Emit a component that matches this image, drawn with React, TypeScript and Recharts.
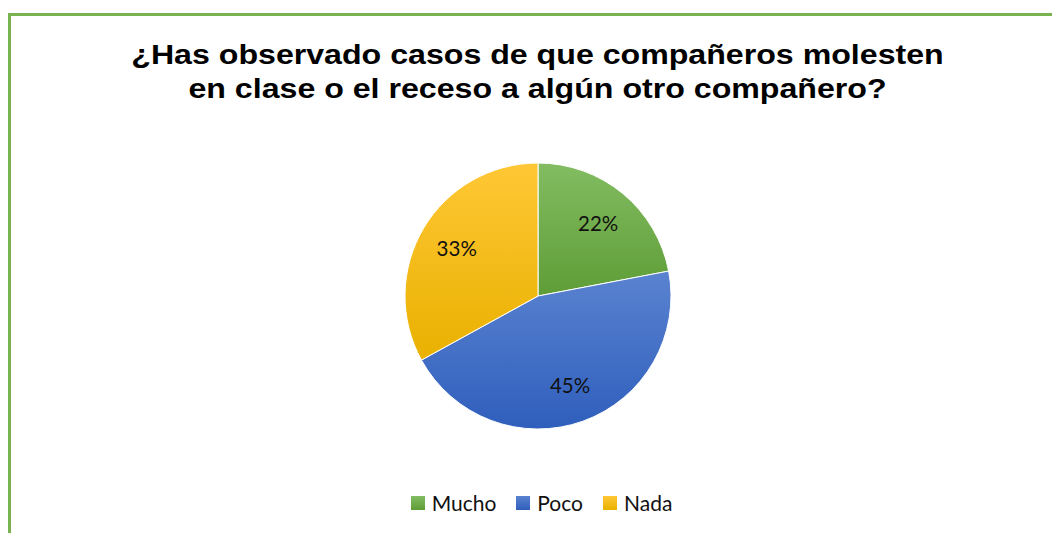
import React from 'react';
import { PieChart, Pie, Cell, Legend } from 'recharts';

const title = ['¿Has observado casos de que compañeros molesten', 'en clase o el receso a algún otro compañero?'];
const categories = ['Mucho', 'Poco', 'Nada'];
const values = [22, 45, 33];
const gradTop = ['#83BC62', '#5A83D0', '#FFC735'];
const gradBottom = ['#5E9D36', '#2F5EBC', '#E9B100'];

const data = categories.map((name, i) => ({ name, value: values[i] }));

const RAD = Math.PI / 180;

const renderLabel = (props: any) => {
  const { cx, cy, midAngle, outerRadius, value } = props;
  const r = outerRadius * 0.71;
  const x = cx + r * Math.cos(-midAngle * RAD);
  const y = cy + r * Math.sin(-midAngle * RAD);
  return (
    <text x={x} y={y} textAnchor="middle" dominantBaseline="central" fill="#111" fontFamily="Lato, 'Open Sans', sans-serif" fontSize={20.5}>
      {`${value}%`}
    </text>
  );
};

const LegendContent = () => (
  <div style={{ display: 'flex', justifyContent: 'center', fontFamily: "Lato, 'Open Sans', sans-serif", fontSize: 21, color: '#111' }}>
    {categories.map((c, i) => (
      <div key={c} style={{ display: 'flex', alignItems: 'center', height: 24, marginRight: i < categories.length - 1 ? 20 : 0 }}>
        <span style={{ display: 'inline-block', width: 14, height: 14, background: `linear-gradient(${gradTop[i]}, ${gradBottom[i]})`, marginRight: 7 }} />
        <span style={{ lineHeight: '24px' }}>{c}</span>
      </div>
    ))}
  </div>
);

export default function App() {
  return (
    <div style={{ position: 'fixed', left: 0, top: 0, width: 1052, height: 533, overflow: 'hidden', background: '#fff' }}>
      <div style={{ position: 'absolute', left: 8, top: 12.5, width: 1100, height: 600, border: '3px solid #78B34F', boxSizing: 'border-box' }} />
      <div style={{ position: 'absolute', left: 0, top: 38, width: 1075, textAlign: 'center', fontFamily: "'Liberation Sans', Arial, sans-serif", fontWeight: 'bold', fontSize: 27, lineHeight: '34px', color: '#000', transform: 'scaleX(1.19)', transformOrigin: '537.5px 0' }}>
        {title.map((t) => (<div key={t}>{t}</div>))}
      </div>
      <PieChart width={1052} height={533} margin={{ top: 0, right: 0, bottom: 0, left: 0 }} style={{ position: 'absolute', left: 0, top: 0 }}>
        <defs>
          {categories.map((c, i) => (
            <linearGradient key={c} id={`grad${i}`} x1="0" y1="0" x2="0" y2="1">
              <stop offset="0%" stopColor={gradTop[i]} />
              <stop offset="100%" stopColor={gradBottom[i]} />
            </linearGradient>
          ))}
        </defs>
        <Pie
          data={data}
          dataKey="value"
          nameKey="name"
          cx={538}
          cy={296}
          outerRadius={133}
          startAngle={90}
          endAngle={-270}
          stroke="#ffffff"
          strokeWidth={1}
          label={renderLabel}
          labelLine={false}
          isAnimationActive={false}
        >
          {data.map((d, i) => (
            <Cell key={d.name} fill={`url(#grad${i})`} />
          ))}
        </Pie>
        <Legend content={<LegendContent />} wrapperStyle={{ position: 'absolute', left: 0, width: 1083, top: 491 }} />
      </PieChart>
    </div>
  );
}
